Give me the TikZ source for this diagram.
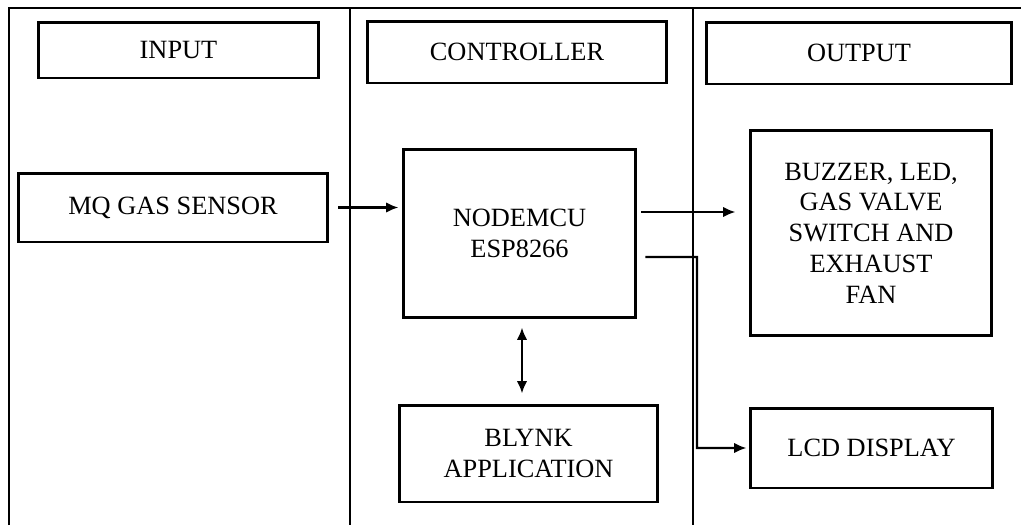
\documentclass[tikz,border=0pt]{standalone}
\usepackage{fontspec}
\setmainfont{Liberation Serif}
\usepackage{tikz}
\usetikzlibrary{arrows.meta}

\begin{document}
\begin{tikzpicture}[line join=miter,x=0.02cm,y=-0.02cm,
	blk/.style={draw,line width=1.7pt,rectangle,align=center,inner sep=0pt,font=\fontsize{15}{17.5}\selectfont},
	arr/.style={-{Latex[length=7pt,width=6pt]},line width=1.4pt},
	darr/.style={{Latex[length=7pt,width=6pt]}-{Latex[length=7pt,width=6pt]},line width=1.4pt}]
			\useasboundingbox (0,0) rectangle (1021,525);
			\draw [line width=0.7pt] (9,525) -- (9,8) -- (1021,8);
			\draw [line width=0.7pt] (350,8) -- (350,525);
			\draw [line width=0.7pt] (693,8) -- (693,525);
			\node[blk,minimum width=5.62cm,minimum height=1.12cm] (input) at (178.5,50) {INPUT};
			\node[blk,minimum width=6.0cm,minimum height=1.24cm] (ctrl) at (517,52) {CONTROLLER};
			\node[blk,minimum width=6.12cm,minimum height=1.24cm] (output) at (859,53) {OUTPUT};
			\node[blk,minimum width=6.2cm,minimum height=1.38cm] (sensor) at (173,207.5) {MQ GAS SENSOR};
			\node[blk,minimum width=4.66cm,minimum height=3.38cm] (nodemcu) at (519.5,233.5) {NODEMCU\\ESP8266};
			\node[blk,minimum width=4.84cm,minimum height=4.12cm] (actuator) at (871,233) {BUZZER, LED,\\GAS VALVE\\SWITCH AND\\EXHAUST\\FAN};
			\node[blk,minimum width=4.86cm,minimum height=1.6cm] (lcd) at (871.5,448) {LCD DISPLAY};
			\node[blk,minimum width=5.18cm,minimum height=1.94cm] (blynk) at (528.5,453.5) {BLYNK\\APPLICATION};
			\draw [arr,shorten <=0.18cm,shorten >=0.06cm] (sensor.east) -- (sensor.east -| nodemcu.west);
			\draw [arr,shorten <=0.08cm,shorten >=0.26cm] ([yshift=0.43cm]nodemcu.east) -- ([yshift=0.43cm]nodemcu.east -| actuator.west);
			\coordinate (bend) at (697,257);
			\draw [arr,shorten >=0.04cm] ([xshift=0.16cm,yshift=-0.47cm]nodemcu.east) -- (bend) |- (lcd.west);
			\draw [darr,shorten <=0.16cm,shorten >=0.2cm] ([xshift=0.05cm]nodemcu.south) -- ([xshift=0.05cm]nodemcu.south |- blynk.north);
\end{tikzpicture}
\end{document}
